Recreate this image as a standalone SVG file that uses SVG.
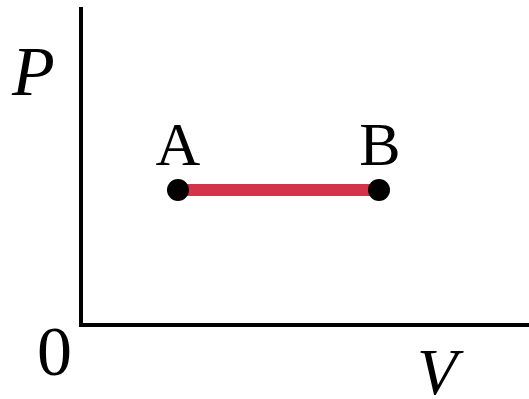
<svg xmlns="http://www.w3.org/2000/svg" width="529" height="399" viewBox="0 0 529 399">
<style>
.t{font-family:'Liberation Serif',serif;fill:#000}
.i{font-style:italic}
.ax{stroke:#000;stroke-width:4;fill:none}
</style>
<rect width="529" height="399" fill="#fff"/>
<g id="axes">
<path class="ax" d="M81,7 V325 H529"/>
</g>
<g id="labels">
<text class="t i" x="12" y="95" font-size="70">P</text>
<text class="t" x="37" y="375" font-size="70">0</text>
<text class="t i" x="417" y="394" font-size="66">V</text>
</g>
<g id="connectors">
<line x1="178" y1="190" x2="377" y2="190" stroke="#d3334b" stroke-width="12"/>
</g>
<g id="nodeA">
<circle cx="178" cy="190" r="11" fill="#000"/>
<text class="t" x="178" y="165" font-size="62" text-anchor="middle">A</text>
</g>
<g id="nodeB">
<circle cx="379" cy="190" r="11" fill="#000"/>
<text class="t" x="380" y="165" font-size="62" text-anchor="middle">B</text>
</g>
</svg>
